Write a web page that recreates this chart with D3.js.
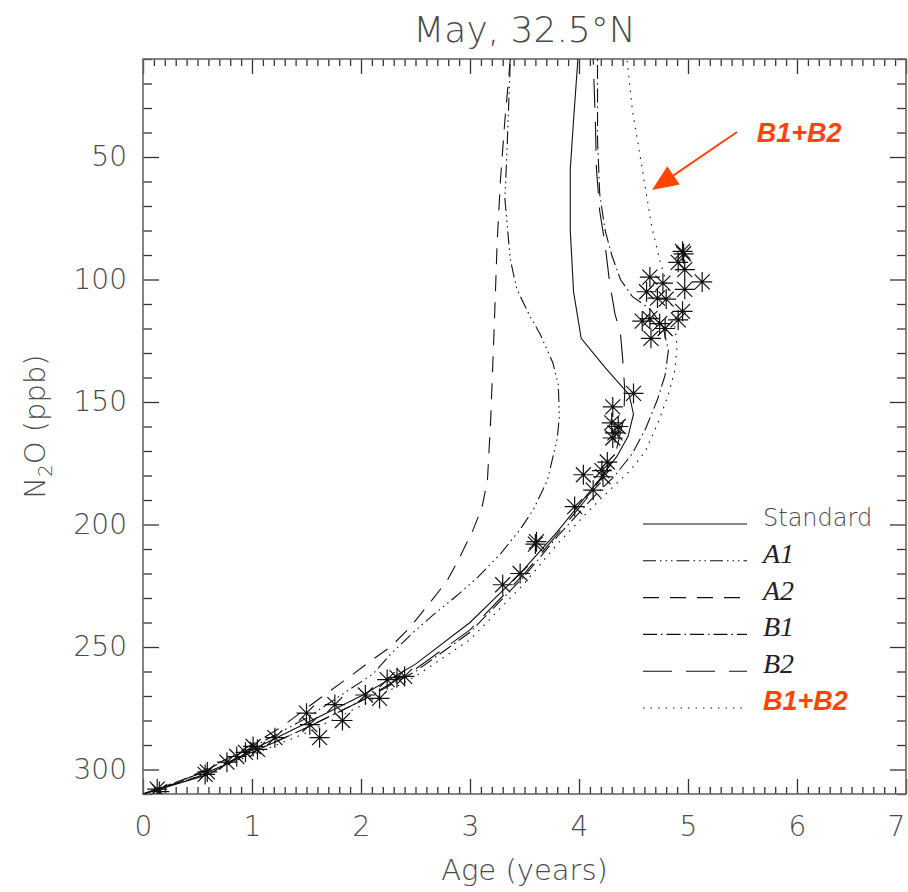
<!doctype html>
<html lang="en">
<head>
<meta charset="utf-8">
<title>May, 32.5N</title>
<style>
  body { margin: 0; background: #fff; }
  .lbl { font-family: "DejaVu Sans", sans-serif; font-weight: 200; fill: #4a4a4a; }
</style>
</head>
<body>
<div id="mychart"></div>
<script src="https://d3js.org/d3.v7.min.js"></script>
<script>
// x ticks / y ticks
var xMajor = [0, 1, 2, 3, 4, 5, 6, 7];
var yMajor = [50, 100, 150, 200, 250, 300];

// model curves: age (years) vs N2O (ppb)
var stdAge = [0, 0.15, 0.6, 1.0, 1.5, 2.0, 2.5, 3.0, 3.3, 3.5, 3.8, 4.0, 4.2, 4.35, 4.45, 4.5, 4.46, 4.24, 4.02, 3.95, 3.92, 3.92, 3.95, 3.99];
var stdN2O = [310, 308, 302, 292, 281, 270, 257, 240, 227, 218, 203, 192, 181, 172, 164, 155, 147, 136, 124, 105, 80, 55, 35, 10];

var a1Age = [0, 0.5, 1.0, 1.5, 2.11, 2.27, 2.48, 2.66, 2.88, 3.06, 3.28, 3.46, 3.58, 3.71, 3.80, 3.82, 3.81, 3.76, 3.64, 3.55, 3.43, 3.37, 3.32, 3.34, 3.37];
var a1N2O = [310, 302, 291, 279, 261, 253, 244, 237, 229, 222, 212, 202, 194, 182, 165, 156, 143, 134, 122, 115, 104, 92, 67, 47, 10];

var a2Age = [0, 0.34, 0.8, 1.26, 1.62, 1.90, 2.08, 2.27, 2.45, 2.63, 2.79, 2.91, 3.03, 3.11, 3.16, 3.19, 3.22, 3.25, 3.28, 3.32, 3.37];
var a2N2O = [310, 305, 295, 283, 271, 262, 256, 250, 242, 232, 223, 213, 202, 193, 182, 157, 122, 84, 59, 35, 10];

var b1Age = [0, 0.5, 1.0, 1.5, 2.0, 2.5, 3.0, 3.5, 3.8, 4.15, 4.33, 4.49, 4.61, 4.72, 4.79, 4.82, 4.77, 4.65, 4.49, 4.38, 4.30, 4.24, 4.19, 4.17, 4.17];
var b1N2O = [310, 303, 293, 283, 272, 260, 244, 221, 205, 188, 180, 171, 161, 149, 139, 129, 119, 112, 107, 100, 90, 80, 65, 43, 10];

var b2Age = [0, 0.5, 1.0, 1.5, 2.0, 2.5, 3.0, 3.5, 3.8, 4.06, 4.19, 4.33, 4.41, 4.42, 4.40, 4.38, 4.33, 4.28, 4.24, 4.19, 4.16, 4.15, 4.13];
var b2N2O = [310, 302, 293, 283, 272, 259, 243, 220, 204, 190, 182, 172, 157, 145, 132, 122, 114, 101, 86, 72, 55, 35, 10];

var b12Age = [0, 0.5, 1.0, 1.5, 2.0, 2.5, 3.0, 3.5, 3.8, 4.10, 4.28, 4.47, 4.61, 4.72, 4.82, 4.88, 4.90, 4.87, 4.82, 4.74, 4.67, 4.61, 4.54, 4.49, 4.44];
var b12N2O = [310, 303, 294, 285, 274, 262, 247, 224, 208, 194, 186, 178, 170, 159, 147, 137, 127, 116, 104, 92, 79, 63, 44, 31, 10];

// observations (asterisks)
var obsAge = [0.13, 0.15, 0.57, 0.59, 0.77, 0.86, 0.94, 1.01, 1.05, 1.21, 1.50, 1.53, 1.62, 1.76, 1.83, 2.04, 2.17, 2.24, 2.33, 2.40,
  3.30, 3.46, 3.60, 3.61, 3.96, 4.04, 4.13, 4.21, 4.22, 4.26, 4.31, 4.33, 4.30, 4.31, 4.36, 4.50,
  4.58, 4.62, 4.65, 4.65, 4.66, 4.72, 4.74, 4.77, 4.79, 4.80, 4.91, 4.91, 4.95, 4.95, 4.96, 4.97, 4.97, 5.13];
var obsN2O = [308, 309, 302, 301, 297, 294.7, 293, 290.6, 291.8, 287, 277, 281.7, 287, 273.5, 280, 269.6, 271, 263.3, 262.5, 262,
  224.6, 220, 208, 207, 192.7, 179.7, 186, 178, 180.5, 174.5, 164.7, 162.6, 158.5, 152, 160, 146.5,
  117, 105, 99, 116, 124, 107.6, 118, 101.5, 120, 108, 93, 116.5, 88.5, 113, 89.5, 96, 104, 101];

// legend
var legendNames = ["Standard", "A1", "A2", "B1", "B2", "B1+B2"];
var legendDash = ["none", "13,4,1.5,4,1.5,4,1.5,4", "16,11", "14,4,1.5,4", "29,14", "1.5,6"];

// annotation arrow (data coords)
var arrowFrom = [5.45, 39.8];
var arrowTo = [4.67, 63.5];
var arrowText = [5.63, 44];

var width = 908, height = 892;
var margin = {left: 143, right: 2, top: 59, bottom: 98};
var w = width - margin.left - margin.right;
var h = height - margin.top - margin.bottom;

var svg = d3.select("#mychart").append("svg")
  .attr("width", width)
  .attr("height", height);

var x = d3.scaleLinear().domain([0, 7]).range([0, w]);
var y = d3.scaleLinear().domain([10, 310]).range([0, h]);

var g = svg.append("g").attr("transform", "translate(" + margin.left + "," + margin.top + ")");

g.append("clipPath").attr("id", "clip")
  .append("rect").attr("width", w).attr("height", h);

var xMinor = d3.range(0, 71).map(function(d) { return d / 10; }).filter(function(d) { return d % 1 !== 0; });
var yMinor = d3.range(10, 311, 10).filter(function(d) { return d % 50 !== 0; });

function styleAxis(sel) {
  sel.select(".domain").remove();
  sel.selectAll(".tick line").attr("stroke", "#333").attr("stroke-width", 1.3);
  sel.selectAll("text").attr("class", "lbl").attr("fill", "#4a4a4a")
    .style("font-family", "DejaVu Sans, sans-serif").style("font-weight", "200").style("font-size", "28px");
}

// bottom
g.append("g").attr("transform", "translate(0," + h + ")")
  .call(d3.axisBottom(x).tickValues(xMajor).tickSize(-15).tickSizeOuter(0).tickPadding(22).tickFormat(d3.format("d")))
  .call(styleAxis)
  .selectAll("text").filter(function(d) { return d === 7; }).attr("dx", -10);
g.append("g").attr("transform", "translate(0," + h + ")")
  .call(d3.axisBottom(x).tickValues(xMinor).tickSize(-7).tickSizeOuter(0).tickFormat(""))
  .call(styleAxis);
// top
g.append("g")
  .call(d3.axisTop(x).tickValues(xMajor).tickSize(-15).tickSizeOuter(0).tickFormat(""))
  .call(styleAxis);
g.append("g")
  .call(d3.axisTop(x).tickValues(xMinor).tickSize(-7).tickSizeOuter(0).tickFormat(""))
  .call(styleAxis);
// left
g.append("g")
  .call(d3.axisLeft(y).tickValues(yMajor).tickSize(-16).tickSizeOuter(0).tickPadding(16))
  .call(styleAxis);
g.append("g")
  .call(d3.axisLeft(y).tickValues(yMinor).tickSize(-9).tickSizeOuter(0).tickFormat(""))
  .call(styleAxis);
// right
g.append("g").attr("transform", "translate(" + w + ",0)")
  .call(d3.axisRight(y).tickValues(yMajor).tickSize(-16).tickSizeOuter(0).tickFormat(""))
  .call(styleAxis);
g.append("g").attr("transform", "translate(" + w + ",0)")
  .call(d3.axisRight(y).tickValues(yMinor).tickSize(-9).tickSizeOuter(0).tickFormat(""))
  .call(styleAxis);

// frame
g.append("rect").attr("width", w).attr("height", h)
  .attr("fill", "none").attr("stroke", "#666").attr("stroke-width", 1.6);

// curves
var curves = [
  {age: stdAge, n2o: stdN2O, dash: legendDash[0]},
  {age: a1Age, n2o: a1N2O, dash: legendDash[1]},
  {age: a2Age, n2o: a2N2O, dash: legendDash[2]},
  {age: b1Age, n2o: b1N2O, dash: legendDash[3]},
  {age: b2Age, n2o: b2N2O, dash: legendDash[4]},
  {age: b12Age, n2o: b12N2O, dash: legendDash[5]}
];

var line = d3.line()
  .x(function(d) { return x(d[0]); })
  .y(function(d) { return y(d[1]); });

var cg = g.append("g").attr("clip-path", "url(#clip)");
cg.selectAll("path.curve").data(curves).enter()
  .append("path")
  .attr("class", "curve")
  .attr("d", function(c) { return line(d3.zip(c.age, c.n2o)); })
  .attr("fill", "none")
  .attr("stroke", "#111")
  .attr("stroke-width", 1.1)
  .attr("stroke-dasharray", function(c) { return c.dash; });

// asterisks
var r = 10, dd = 7.5;
var star = "M" + (-r) + ",0L" + r + ",0M0," + (-r) + "L0," + r +
  "M" + (-dd) + "," + (-dd) + "L" + dd + "," + dd + "M" + (-dd) + "," + dd + "L" + dd + "," + (-dd);
cg.selectAll("path.obs").data(d3.zip(obsAge, obsN2O)).enter()
  .append("path")
  .attr("class", "obs")
  .attr("d", star)
  .attr("transform", function(d) { return "translate(" + x(d[0]) + "," + y(d[1]) + ")"; })
  .attr("fill", "none")
  .attr("stroke", "#111")
  .attr("stroke-width", 1.2);

// legend
var lg = g.append("g").attr("transform", "translate(" + (643 - margin.left) + "," + (524 - margin.top) + ")");
var rowH = 36.8;
legendNames.forEach(function(name, i) {
  lg.append("line")
    .attr("x1", 0).attr("x2", 104)
    .attr("y1", i * rowH).attr("y2", i * rowH)
    .attr("stroke", "#111").attr("stroke-width", 1.1)
    .attr("stroke-dasharray", legendDash[i]);
  var t = lg.append("text").attr("x", 120).attr("y", i * rowH + 2).text(name);
  if (i === 0) {
    t.attr("fill", "#4a4a4a").style("font-family", "DejaVu Sans, sans-serif")
      .style("font-weight", "200").style("font-size", "24px");
  } else if (i === 5) {
    t.attr("fill", "#ff4500").style("font-family", "Liberation Sans, Arial, sans-serif")
      .style("font-size", "27px").style("font-weight", "bold").style("font-style", "italic");
  } else {
    t.attr("fill", "#222").style("font-family", "Liberation Serif, DejaVu Serif, serif")
      .style("font-size", "28px").style("font-style", "italic");
  }
});

// arrow annotation
var ax0 = x(arrowFrom[0]), ay0 = y(arrowFrom[1]);
var ax1 = x(arrowTo[0]), ay1 = y(arrowTo[1]);
var ang = Math.atan2(ay1 - ay0, ax1 - ax0);
var headL = 26, headW = 11;
var bx = ax1 - headL * Math.cos(ang), by = ay1 - headL * Math.sin(ang);
g.append("line")
  .attr("x1", ax0).attr("y1", ay0).attr("x2", bx).attr("y2", by)
  .attr("stroke", "#ff4500").attr("stroke-width", 2);
g.append("path")
  .attr("d", "M" + ax1 + "," + ay1 +
    "L" + (bx + headW * Math.sin(ang)) + "," + (by - headW * Math.cos(ang)) +
    "L" + (bx - headW * Math.sin(ang)) + "," + (by + headW * Math.cos(ang)) + "Z")
  .attr("fill", "#ff4500");
g.append("text")
  .attr("x", x(arrowText[0])).attr("y", y(arrowText[1]))
  .attr("fill", "#ff4500")
  .style("font-family", "Liberation Sans, Arial, sans-serif")
  .style("font-size", "27px").style("font-weight", "bold").style("font-style", "italic")
  .text("B1+B2");

// titles
svg.append("text").attr("class", "lbl")
  .attr("x", margin.left + w / 2).attr("y", 42)
  .attr("text-anchor", "middle")
  .style("font-size", "36px")
  .text("May, 32.5°N");

svg.append("text").attr("class", "lbl")
  .attr("x", margin.left + w / 2).attr("y", 880)
  .attr("text-anchor", "middle")
  .style("font-size", "29px")
  .text("Age (years)");

var yl = svg.append("text").attr("class", "lbl")
  .attr("transform", "translate(45," + (margin.top + y(160)) + ") rotate(-90)")
  .attr("text-anchor", "middle")
  .style("font-size", "29px");
yl.append("tspan").text("N");
yl.append("tspan").attr("dy", 7).style("font-size", "20px").text("2");
yl.append("tspan").attr("dy", -7).text("O (ppb)");
</script>
</body>
</html>
